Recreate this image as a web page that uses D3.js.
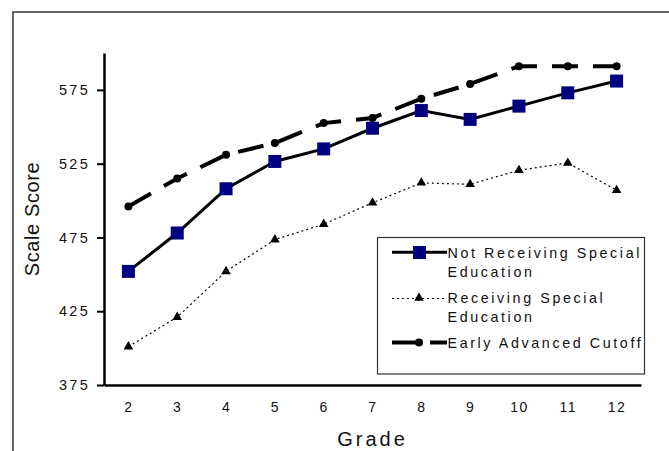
<!DOCTYPE html>
<html>
<head>
<meta charset="utf-8">
<script src="https://cdn.jsdelivr.net/npm/d3@7"></script>
<style>
  body { margin: 0; background: #fff; }
  svg { display: block; font-family: "Liberation Sans", Arial, sans-serif; }
</style>
</head>
<body>
<div id="vis"></div>
<script>
const FRAME_WIDTH = 669;
const FRAME_HEIGHT = 451;
const MARGINS = {left: 104, right: 28, top: 53, bottom: 66};

// data
const grades = ["2", "3", "4", "5", "6", "7", "8", "9", "10", "11", "12"];
const notReceiving = [452, 478, 508, 526.5, 535, 549, 561, 555, 564, 573, 581];
const receiving = [401, 421, 452, 473.5, 484, 498.5, 512, 511, 520.5, 525.5, 507];
const earlyAdvanced = [496, 515, 531, 539, 552.5, 556, 569, 579, 591, 591, 591];
const yTicks = [375, 425, 475, 525, 575];

const VIS_WIDTH = FRAME_WIDTH - MARGINS.left - MARGINS.right;
const VIS_HEIGHT = FRAME_HEIGHT - MARGINS.top - MARGINS.bottom;

const svg = d3.select("#vis")
  .append("svg")
    .attr("width", FRAME_WIDTH)
    .attr("height", FRAME_HEIGHT);

// outer chart-area border (runs off the right and bottom edge)
svg.append("rect")
  .attr("x", 13).attr("y", 12)
  .attr("width", 700).attr("height", 500)
  .attr("fill", "none")
  .attr("stroke", "#404040")
  .attr("stroke-width", 1.6);

const X_SCALE = d3.scalePoint()
  .domain(grades)
  .range([0, VIS_WIDTH])
  .padding(0.5);

const Y_SCALE = d3.scaleLinear()
  .domain([375, 600])
  .range([VIS_HEIGHT, 0]);

const g = svg.append("g")
  .attr("transform", "translate(" + MARGINS.left + "," + MARGINS.top + ")");

// y axis
const yAxis = g.append("g")
  .call(d3.axisLeft(Y_SCALE).tickValues(yTicks).tickSize(7).tickPadding(7).tickSizeOuter(0));
yAxis.select(".domain").attr("stroke-width", 2.5);
yAxis.selectAll(".tick line").attr("stroke-width", 2);
yAxis.selectAll("text")
  .attr("font-size", "14.5px")
  .attr("letter-spacing", "2.3px")
  .attr("fill", "#111");

// x axis
const xAxis = g.append("g")
  .attr("transform", "translate(0," + VIS_HEIGHT + ")")
  .call(d3.axisBottom(X_SCALE).tickSize(0).tickPadding(17.5));
xAxis.select(".domain").attr("stroke-width", 2.5);
xAxis.selectAll("text")
  .attr("font-size", "14px")
  .attr("letter-spacing", "1.5px")
  .attr("fill", "#111");

// axis titles
svg.append("text")
  .attr("x", MARGINS.left + VIS_WIDTH / 2)
  .attr("y", 446)
  .attr("text-anchor", "middle")
  .attr("font-size", "20px")
  .attr("letter-spacing", "3px")
  .attr("fill", "#111")
  .text("Grade");

svg.append("text")
  .attr("transform", "translate(39,219) rotate(-90)")
  .attr("text-anchor", "middle")
  .attr("font-size", "20px")
  .attr("letter-spacing", "0.6px")
  .attr("fill", "#111")
  .text("Scale Score");

const line = d3.line()
  .x((d, i) => X_SCALE(grades[i]))
  .y((d) => Y_SCALE(d));

// early advanced cutoff (dashed, circles)
g.append("path")
  .datum(earlyAdvanced)
  .attr("d", line)
  .attr("fill", "none")
  .attr("stroke", "#000")
  .attr("stroke-width", 4)
  .attr("stroke-dasharray", "26,15");
g.selectAll(".adv")
  .data(earlyAdvanced)
  .enter()
  .append("circle")
    .attr("class", "adv")
    .attr("cx", (d, i) => X_SCALE(grades[i]))
    .attr("cy", (d) => Y_SCALE(d))
    .attr("r", 4)
    .attr("fill", "#000");

// receiving special education (dotted, triangles)
g.append("path")
  .datum(receiving)
  .attr("d", line)
  .attr("fill", "none")
  .attr("stroke", "#000")
  .attr("stroke-width", 1.2)
  .attr("stroke-dasharray", "2,3");
const tri = d3.symbol().type(d3.symbolTriangle).size(40);
g.selectAll(".rec")
  .data(receiving)
  .enter()
  .append("path")
    .attr("class", "rec")
    .attr("d", tri)
    .attr("transform", (d, i) => "translate(" + X_SCALE(grades[i]) + "," + Y_SCALE(d) + ")")
    .attr("fill", "#000");

// not receiving special education (solid, navy squares)
g.append("path")
  .datum(notReceiving)
  .attr("d", line)
  .attr("fill", "none")
  .attr("stroke", "#000")
  .attr("stroke-width", 3);
g.selectAll(".notrec")
  .data(notReceiving)
  .enter()
  .append("rect")
    .attr("class", "notrec")
    .attr("x", (d, i) => X_SCALE(grades[i]) - 6.5)
    .attr("y", (d) => Y_SCALE(d) - 6.5)
    .attr("width", 13)
    .attr("height", 13)
    .attr("fill", "#000080");

// legend
const legend = svg.append("g");
legend.append("rect")
  .attr("x", 377.5).attr("y", 237.5)
  .attr("width", 267).attr("height", 136.5)
  .attr("fill", "#fff")
  .attr("stroke", "#333")
  .attr("stroke-width", 1.2);

const legendText = (y, txt) => legend.append("text")
  .attr("x", 447.5).attr("y", y)
  .attr("font-size", "14.3px")
  .attr("letter-spacing", "2.6px")
  .attr("fill", "#111")
  .text(txt);

// row 1
legend.append("line")
  .attr("x1", 392).attr("x2", 447).attr("y1", 252.3).attr("y2", 252.3)
  .attr("stroke", "#000").attr("stroke-width", 3);
legend.append("rect")
  .attr("x", 413).attr("y", 246).attr("width", 13).attr("height", 13)
  .attr("fill", "#000080");
legendText(257.5, "Not Receiving Special");
legendText(276.5, "Education");

// row 2
legend.append("line")
  .attr("x1", 392).attr("x2", 447).attr("y1", 298.5).attr("y2", 298.5)
  .attr("stroke", "#000").attr("stroke-width", 1.2)
  .attr("stroke-dasharray", "2,3");
legend.append("path")
  .attr("d", tri)
  .attr("transform", "translate(419,298)")
  .attr("fill", "#000");
legendText(303, "Receiving Special");
legendText(321.5, "Education");

// row 3
legend.append("line")
  .attr("x1", 392).attr("x2", 447).attr("y1", 342.5).attr("y2", 342.5)
  .attr("stroke", "#000").attr("stroke-width", 4)
  .attr("stroke-dasharray", "27,11");
legend.append("circle")
  .attr("cx", 419).attr("cy", 342.5).attr("r", 4)
  .attr("fill", "#000");
legendText(347.5, "Early Advanced Cutoff");
</script>
</body>
</html>
